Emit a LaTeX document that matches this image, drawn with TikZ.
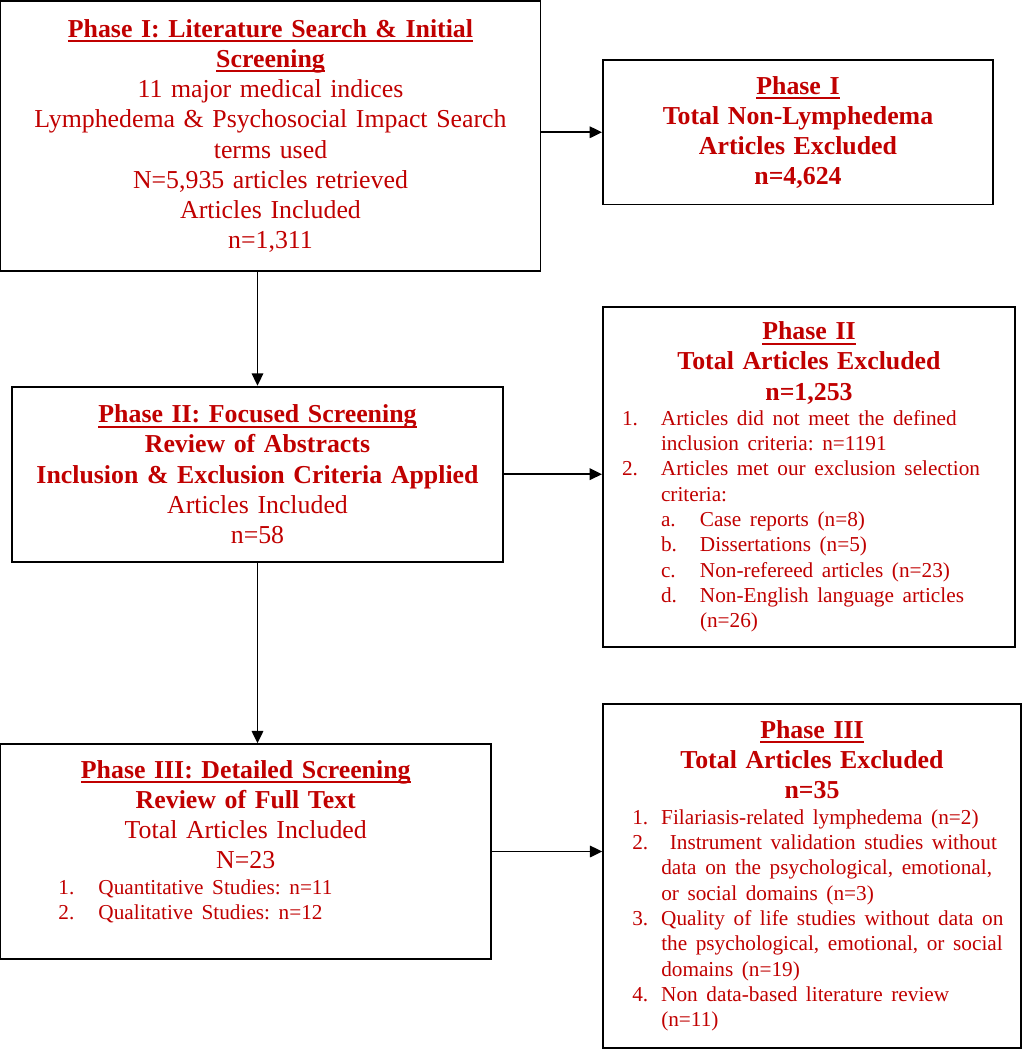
\documentclass[tikz,border=0pt]{standalone}
\usepackage{fontspec}
\setmainfont{Liberation Serif}
\usetikzlibrary{arrows.meta}

\definecolor{phasered}{RGB}{192,0,0}
\newsavebox{\hdrbox}
\newcommand{\hdr}[1]{\leavevmode\sbox{\hdrbox}{\bfseries #1}\rlap{\rule[-2.6pt]{\wd\hdrbox}{1.1pt}}\usebox{\hdrbox}}
\newcommand{\itm}[4]{\makebox[\hsize][l]{\hspace*{#1}\makebox[#2][l]{#3}#4}}
\newcommand{\bigtxt}{\fontsize{14.7}{17.1}\selectfont\frenchspacing}
\newcommand{\listtxt}{\fontsize{12.1}{14.4}\selectfont}

\tikzset{
  phasebox/.style={draw=black, line width=1.1pt, text=phasered, align=center,
    inner xsep=0pt, inner ysep=2pt, font=\bigtxt},
  link/.style={line width=1.1pt, ->, >={Triangle[length=7pt,width=6.5pt]}}
}

\begin{document}
\begin{tikzpicture}
    \useasboundingbox (0,0) rectangle (20.48,-21);

    % Phase I: search and what was dropped
    \node[phasebox, text width=10.8cm, minimum height=5.4cm] (p1) at (5.41,-2.72)
        {\hdr{Phase I: Literature Search \& Initial}\\ \hdr{Screening}\\
         11 major medical indices\\ Lymphedema \& Psychosocial Impact Search\\
         terms used\\ N=5,935 articles retrieved\\ Articles Included\\ n=1,311};
    \node[phasebox, text width=7.8cm, minimum height=2.89cm] (x1) at (15.96,-2.645)
        {\hdr{Phase I}\\ \textbf{Total Non-Lymphedema}\\ \textbf{Articles Excluded}\\
         \textbf{n=4,624}};

    % Phase II: abstracts
    \node[phasebox, text width=9.81cm, minimum height=3.5cm] (p2) at (5.15,-9.484)
        {\hdr{Phase II: Focused Screening}\\ \textbf{Review of Abstracts}\\
         \textbf{Inclusion \& Exclusion Criteria Applied}\\ Articles Included\\ n=58};
    \node[phasebox, text width=8.24cm, minimum height=6.79cm] (x2) at (16.18,-9.543)
        {\hdr{Phase II}\\ \textbf{Total Articles Excluded}\\ \textbf{n=1,253}\par
         \listtxt
         \itm{0.38cm}{0.78cm}{1.}{Articles did not meet the defined}\\
         \itm{1.16cm}{0pt}{}{inclusion criteria: n=1191}\\
         \itm{0.38cm}{0.78cm}{2.}{Articles met our exclusion selection}\\
         \itm{1.16cm}{0pt}{}{criteria:}\\
         \itm{1.16cm}{0.78cm}{a.}{Case reports (n=8)}\\
         \itm{1.16cm}{0.78cm}{b.}{Dissertations (n=5)}\\
         \itm{1.16cm}{0.78cm}{c.}{Non-refereed articles (n=23)}\\
         \itm{1.16cm}{0.78cm}{d.}{Non-English language articles}\\
         \itm{1.94cm}{0pt}{}{(n=26)}\par};

    % Phase III: full text
    \node[phasebox, text width=9.81cm, minimum height=4.29cm] (p3) at (4.915,-17.03)
        {\hdr{Phase III: Detailed Screening}\\ \textbf{Review of Full Text}\\
         Total Articles Included\\ N=23\par
         \listtxt
         \itm{1.16cm}{0.8cm}{1.}{Quantitative Studies: n=11}\\
         \itm{1.16cm}{0.8cm}{2.}{Qualitative Studies: n=12}\rule[-0.45cm]{0pt}{0pt}\par};
    \node[phasebox, text width=8.35cm, minimum height=6.89cm] (x3) at (16.24,-17.52)
        {\hdr{Phase III}\\ \textbf{Total Articles Excluded}\\ \textbf{n=35}\par
         \listtxt
         \itm{0.58cm}{0.58cm}{1.}{Filariasis-related lymphedema (n=2)}\\
         \itm{0.58cm}{0.58cm}{2.}{\ Instrument validation studies without}\\
         \itm{1.16cm}{0pt}{}{data on the psychological, emotional,}\\
         \itm{1.16cm}{0pt}{}{or social domains (n=3)}\\
         \itm{0.58cm}{0.58cm}{3.}{Quality of life studies without data on}\\
         \itm{1.16cm}{0pt}{}{the psychological, emotional, or social}\\
         \itm{1.16cm}{0pt}{}{domains (n=19)}\\
         \itm{0.58cm}{0.58cm}{4.}{Non data-based literature review}\\
         \itm{1.16cm}{0pt}{}{(n=11)}\par};

    % Arrows down the phases
    \draw[link] (p1.south -| p2.north) -- (p2.north);
    \draw[link] (p2.south) -- (p2.south |- p3.north);

    % Arrows out to the exclusions
    \draw[link] (p1.east |- x1.west) -- (x1.west);
    \draw[link] (p2.east) -- (p2.east -| x2.west);
    \draw[link] (p3.east) -- (p3.east -| x3.west);
\end{tikzpicture}
\end{document}
